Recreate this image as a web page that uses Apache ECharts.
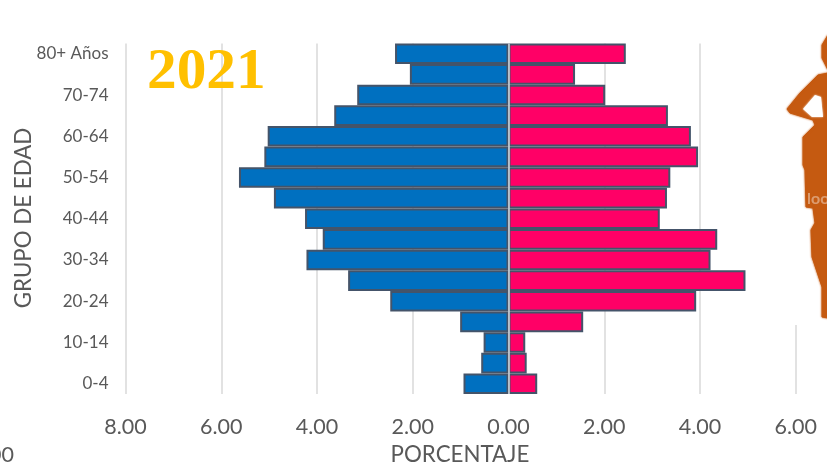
<!DOCTYPE html>
<html><head><meta charset="utf-8">
<style>html,body{margin:0;padding:0;background:#fff}#c{width:827px;height:469px}</style>
<script src="https://cdn.jsdelivr.net/npm/echarts@6/dist/echarts.min.js"></script>
</head><body><div id="c"></div>
<script>
const categories = ['0-4','5-9','10-14','15-19','20-24','25-29','30-34','35-39','40-44','45-49','50-54','55-59','60-64','65-69','70-74','75-79','80+ Años'];
const hombres = [-0.94,-0.57,-0.52,-1.01,-2.47,-3.35,-4.22,-3.88,-4.25,-4.90,-5.63,-5.10,-5.03,-3.64,-3.16,-2.06,-2.37];
const mujeres = [0.60,0.38,0.35,1.56,3.92,4.95,4.22,4.36,3.16,3.31,3.38,3.96,3.81,3.33,2.02,1.39,2.45];
const xTicks = {min:-8, max:8, interval:2};
const FONT = 'Lato, "Open Sans", sans-serif';
const GREY = '#595959';
const ORANGE = '#C55A11';
const chart = echarts.init(document.getElementById('c'), null, {renderer:'canvas'});
const barStyle = c => ({color:c, borderColor:'#44546A', borderWidth:2});
const soft = {fill:ORANGE, stroke:ORANGE, lineWidth:1, shadowBlur:2, shadowColor:ORANGE};
chart.setOption({
  animation:false,
  grid:{left:125.5, top:43.5, width:766, height:350.5, containLabel:false, outerBoundsMode:'none'},
  xAxis:{type:'value', min:xTicks.min, max:xTicks.max, interval:xTicks.interval,
    axisLine:{show:false}, axisTick:{show:false},
    splitLine:{show:true, lineStyle:{color:'#D9D9D9', width:1.5}},
    axisLabel:{color:GREY, fontFamily:FONT, fontSize:21.5, margin:22,
      formatter:v=>Math.abs(v).toFixed(2)}},
  yAxis:{type:'category', data:categories,
    axisLine:{show:false, onZero:false}, axisTick:{show:false},
    axisLabel:{color:GREY, fontFamily:FONT, fontSize:17, margin:17, interval:1}},
  series:[
    {name:'Hombres', type:'bar', data:hombres, barWidth:'100%', barGap:'-100%', itemStyle:barStyle('#0070C0'),
     markLine:{silent:true, symbol:'none', label:{show:false}, lineStyle:{color:'#D0D8E0', width:1.5, type:'solid'}, data:[{xAxis:0}], z:6}},
    {name:'Mujeres', type:'bar', data:mujeres, barWidth:'100%', barGap:'-100%', itemStyle:barStyle('#FF0066')}
  ],
  graphic:[
    {type:'rect', z:3, shape:{x:762,y:30,width:65,height:295}, style:{fill:'#fff'}},
    {type:'polygon', z:4, shape:{points:[[828,35],[822,45],[822,58],[828,70]]}, style:soft},
    {type:'polygon', z:4, shape:{points:[[828,73],[818,75],[800,93],[787,109],[790,113],[813,120],[815,125],[803,137],[803,165],[805,170],[806,207],[813,208],[815,223],[811,230],[812,257],[822,287],[822,317],[828,318]]}, style:soft},
    {type:'polygon', z:5, shape:{points:[[815,95],[803,109],[812,117],[823,117],[821,97]]}, style:{fill:'#fff', shadowBlur:2, shadowColor:'#fff'}},
    {type:'text', z:6, style:{text:'loo', x:807, y:191, fill:'rgba(255,255,255,0.4)', font:'bold 16px '+FONT}},
    {type:'text', z:6, x:147, y:46, scaleX:1.06, style:{text:'2021', x:0, y:0, fill:'#FFC000', font:'bold 56px "Liberation Serif", serif'}},
    {type:'text', z:6, x:24, y:218, rotation:Math.PI/2, style:{text:'GRUPO DE EDAD', x:0, y:0, fill:GREY, font:'22.3px '+FONT, align:'center', verticalAlign:'middle'}},
    {type:'text', z:6, style:{text:'PORCENTAJE', x:460, y:455, fill:GREY, font:'22.3px '+FONT, align:'center', verticalAlign:'middle'}},
    {type:'text', z:6, style:{text:'.00', x:14, y:455, fill:GREY, font:'21.5px '+FONT, align:'right', verticalAlign:'middle'}}
  ]
});
</script></body></html>
